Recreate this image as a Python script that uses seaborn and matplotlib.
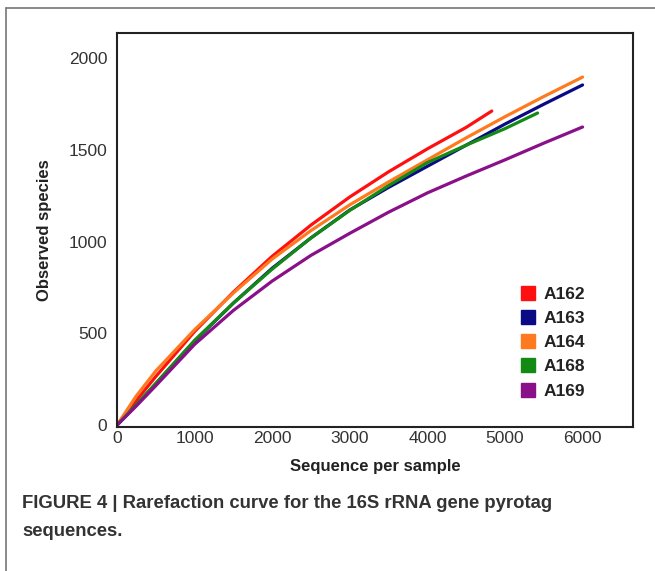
import numpy as np
import pandas as pd
import matplotlib
matplotlib.use("Agg")
import matplotlib.pyplot as plt
from matplotlib.lines import Line2D
import seaborn as sns

samples = ["A162", "A163", "A164", "A168", "A169"]
colors = ["#FF1010", "#0A0A85", "#FF7A1E", "#138A13", "#8A108A"]

x_A162 = [0, 250, 500, 1000, 1500, 2000, 2500, 3000, 3500, 4000, 4500, 4830]
y_A162 = [0, 135, 265, 510, 725, 920, 1090, 1243, 1380, 1505, 1622, 1711]

x_A163 = [0, 250, 500, 1000, 1500, 2000, 2500, 3000, 3500, 4000, 4500, 5000, 5500, 6000]
y_A163 = [0, 110, 225, 458, 665, 855, 1020, 1172, 1295, 1410, 1525, 1640, 1748, 1853]

x_A164 = [0, 250, 500, 1000, 1500, 2000, 2500, 3000, 3500, 4000, 4500, 5000, 5500, 6000]
y_A164 = [0, 160, 295, 520, 720, 905, 1060, 1200, 1325, 1445, 1565, 1680, 1790, 1896]

x_A168 = [0, 250, 500, 1000, 1500, 2000, 2500, 3000, 3500, 4000, 4500, 5000, 5420]
y_A168 = [0, 112, 228, 462, 665, 850, 1020, 1170, 1305, 1430, 1525, 1615, 1700]

x_A169 = [0, 250, 500, 1000, 1500, 2000, 2500, 3000, 3500, 4000, 4500, 5000, 5500, 6000]
y_A169 = [0, 105, 215, 440, 625, 785, 925, 1045, 1160, 1265, 1357, 1445, 1536, 1624]

x_ticks = [0, 1000, 2000, 3000, 4000, 5000, 6000]
y_ticks = [0, 500, 1000, 1500, 2000]

series = {"A162": (x_A162, y_A162), "A163": (x_A163, y_A163), "A164": (x_A164, y_A164),
          "A168": (x_A168, y_A168), "A169": (x_A169, y_A169)}
rows = []
for name in samples:
    xs, ys = series[name]
    for a, b in zip(xs, ys):
        rows.append({"seq": a, "obs": b, "sample": name})
df = pd.DataFrame(rows)

sns.set_theme(style="white")
plt.rcParams["font.family"] = ["Liberation Sans", "DejaVu Sans"]

fig = plt.figure(figsize=(6.55, 5.71), dpi=100)
ax = fig.add_axes([117/655, 1-427/571, (633-117)/655, (427-33)/571])

sns.lineplot(data=df, x="seq", y="obs", hue="sample", palette=dict(zip(samples, colors)),
             estimator=None, sort=True, linewidth=2.3, ax=ax, legend=False)

ax.set_xlim(0, 6650)
ax.set_ylim(-10, 2136)
ax.set_xticks(x_ticks)
ax.set_yticks(y_ticks)
ax.tick_params(axis="both", length=0, labelsize=12.5, labelcolor="#333333")
ax.tick_params(axis="x", pad=3)
ax.tick_params(axis="y", pad=7)
for s in ax.spines.values():
    s.set_visible(True)
    s.set_color("#222222")
    s.set_linewidth(1.5)

ax.set_xlabel("Sequence per sample", fontsize=12, fontweight="bold", color="#222222", labelpad=9)
ax.set_ylabel("Observed species", fontsize=12, fontweight="bold", color="#222222", labelpad=12)

handles = [Line2D([], [], linestyle="none", marker="s", markersize=10, markerfacecolor=c,
                  markeredgecolor=c) for c in colors]
leg = ax.legend(handles, samples, loc="upper left", bbox_to_anchor=(0.765, 0.378), frameon=False,
                prop={"weight": "bold", "size": 12.5}, handlelength=0.9, handletextpad=0.45,
                labelspacing=0.52, borderpad=0)
for t in leg.get_texts():
    t.set_color("#222222")

# outer frame
fig.add_artist(Line2D([6/655, 1.0], [1-8/571, 1-8/571], transform=fig.transFigure,
                      color="#777777", linewidth=1.2))
fig.add_artist(Line2D([6/655, 6/655], [0, 1-8/571], transform=fig.transFigure,
                      color="#777777", linewidth=1.2))

fig.text(22/655, 1-503/571, "FIGURE 4 | Rarefaction curve for the 16S rRNA gene pyrotag",
         fontsize=13.3, fontweight="bold", color="#333333", va="center", ha="left")
fig.text(22/655, 1-532/571, "sequences.",
         fontsize=13.3, fontweight="bold", color="#333333", va="center", ha="left")

fig.savefig("out.png", dpi=100)
